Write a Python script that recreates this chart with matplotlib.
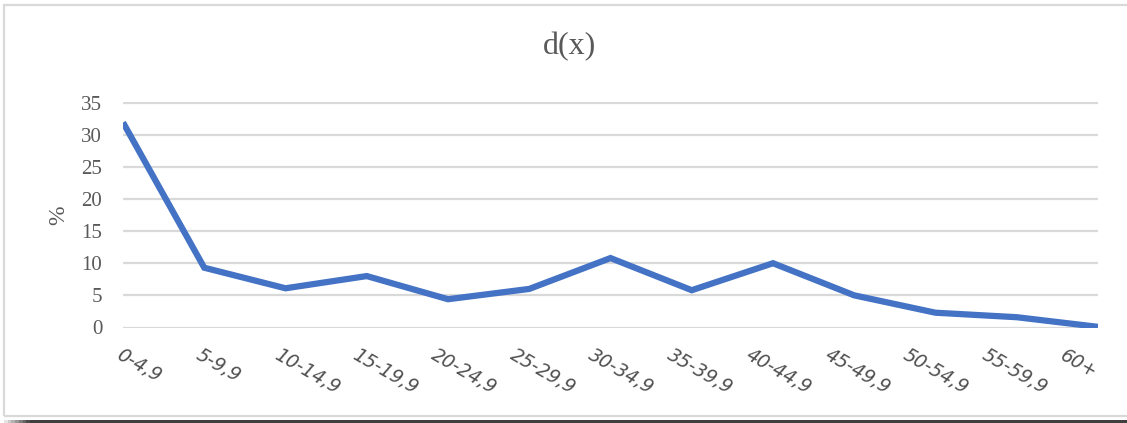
import matplotlib.pyplot as plt
from matplotlib.patches import Rectangle
import numpy as np

# Distribution d(x) par classe d'âge
classes = ['0-4,9', '5-9,9', '10-14,9', '15-19,9', '20-24,9', '25-29,9', '30-34,9',
           '35-39,9', '40-44,9', '45-49,9', '50-54,9', '55-59,9', '60+']
dx = [31.9, 9.3, 6.1, 8.0, 4.4, 6.0, 10.8, 5.8, 10.0, 5.0, 2.3, 1.6, 0.1]
yticks = [0, 5, 10, 15, 20, 25, 30, 35]

W, H = 1127, 423
fig = plt.figure(figsize=(W / 100, H / 100), dpi=100)
fig.patch.set_facecolor('white')

# cadre du graphique + ombre en bas
fig.patches.append(Rectangle((4 / W, 1 - 416 / H), 1.2, 411 / H, transform=fig.transFigure,
                             fill=False, edgecolor='#d9d9d9', linewidth=1.6))
ax_shadow = fig.add_axes([0, 0, 1, 3.5 / H])
grad = np.linspace(0, 1, 300)
grad = np.clip(grad * 40, 0, 1)[None, :]
ax_shadow.imshow(grad, aspect='auto', cmap=plt.matplotlib.colors.LinearSegmentedColormap.from_list(
    'sh', ['white', '#3f3f3f']), extent=[0, 1, 0, 1])
ax_shadow.axis('off')

rect = [123 / W, 1 - 327.5 / H, (1098 - 123) / W, 225 / H]
ax = fig.add_axes(rect)
x = np.arange(len(classes))
ax.plot(x, dx, color='#4472C4', linewidth=4.5, solid_joinstyle='miter', solid_capstyle='butt', zorder=3)

ax.set_xlim(0, len(classes) - 1)
ax.set_ylim(0, 35)
ax.set_yticks(yticks)
ax.set_yticklabels([str(v) for v in yticks], fontfamily='Liberation Serif', fontsize=15, color='#595959')
ax.yaxis.grid(True, color='#d9d9d9', linewidth=1.6)
ax.set_axisbelow(True)
ax.tick_params(axis='y', length=0, pad=15)
ax.set_xticks([])
for s in ax.spines.values():
    s.set_visible(False)

# étiquettes des classes : pas un peu plus serré que les points
ax_lab = fig.add_axes(rect, frameon=False)
ax_lab.patch.set_visible(False)
ax_lab.set_xlim(2 / 78.8, 977 / 78.8)
ax_lab.set_yticks([])
ax_lab.set_xticks(x)
ax_lab.set_xticklabels(classes, rotation=-30, ha='left', va='top', rotation_mode='anchor',
                       fontsize=13.5, fontstyle='italic', color='#505050', fontfamily='DejaVu Sans')
ax_lab.tick_params(axis='x', length=0, pad=13)

ax.set_ylabel('%', fontfamily='Liberation Serif', fontsize=17, color='#595959', labelpad=8.5)
fig.text(569 / W, 1 - 47 / H, 'd(x)', ha='center', va='center', fontfamily='Liberation Serif',
         fontsize=23, color='#595959')

plt.savefig('out.png', dpi=100)
